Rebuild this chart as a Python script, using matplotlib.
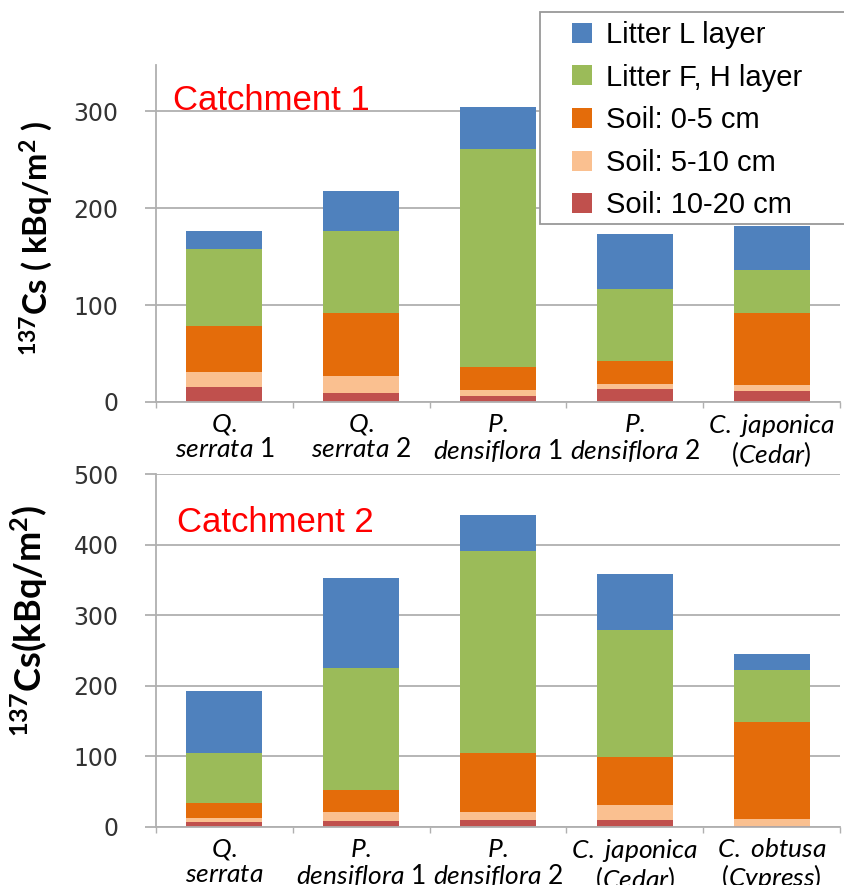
import numpy as np
import matplotlib.pyplot as plt
from matplotlib.patches import Patch, Rectangle

plt.rcParams['mathtext.fontset'] = 'custom'
plt.rcParams['mathtext.rm'] = 'Lato'
plt.rcParams['mathtext.it'] = 'Lato:italic'
plt.rcParams['mathtext.bf'] = 'Lato:bold'

# layer names, bottom to top
layers = ['Soil: 10-20 cm', 'Soil: 5-10 cm', 'Soil: 0-5 cm', 'Litter F, H layer', 'Litter L layer']
colors = ['#C0504D', '#FAC090', '#E46C0A', '#9BBB59', '#4F81BD']

# catchment 1 (kBq/m2)
c1_labels = [r'$\mathit{Q.}$' + '\n' + r'$\mathit{serrata}$ 1',
             r'$\mathit{Q.}$' + '\n' + r'$\mathit{serrata}$ 2',
             r'$\mathit{P.}$' + '\n' + r'$\mathit{densiflora}$ 1',
             r'$\mathit{P.}$' + '\n' + r'$\mathit{densiflora}$ 2',
             r'$\mathit{C.\ japonica}$' + '\n' + r'$\mathit{(Cedar)}$']
c1_soil_10_20 = [16, 9, 6.5, 13, 11]
c1_soil_5_10 = [15, 18, 5.5, 6, 7]
c1_soil_0_5 = [47, 65, 24, 23, 74]
c1_litter_fh = [80, 85, 225, 75, 44]
c1_litter_l = [19, 41, 44, 56, 46]

# catchment 2 (kBq/m2)
c2_labels = [r'$\mathit{Q.}$' + '\n' + r'$\mathit{serrata}$',
             r'$\mathit{P.}$' + '\n' + r'$\mathit{densiflora}$ 1',
             r'$\mathit{P.}$' + '\n' + r'$\mathit{densiflora}$ 2',
             r'$\mathit{C.\ japonica}$' + '\n' + r'$\mathit{(Cedar)}$',
             r'$\mathit{C.\ obtusa}$' + '\n' + r'$\mathit{(Cypress)}$']
c2_soil_10_20 = [6, 8, 9.5, 9.5, 1]
c2_soil_5_10 = [7, 13, 11, 21.5, 9.5]
c2_soil_0_5 = [20, 31, 84, 68, 138.5]
c2_litter_fh = [71, 173, 287, 180, 74]
c2_litter_l = [89, 128, 51, 79, 22]

c1_ylim = (0, 348)
c1_yticks = [0, 100, 200, 300]
c2_ylim = (0, 500)
c2_yticks = [0, 100, 200, 300, 400, 500]

c1_ylabel = r'$^{\mathbf{137}}$Cs ( kBq/m$^{\mathbf{2}}$ )'
c2_ylabel = r'$^{\mathbf{137}}$Cs(kBq/m$^{\mathbf{2}}$)'

W, H = 844, 885
fig = plt.figure(figsize=(W / 100, H / 100), dpi=100)
ax1 = fig.add_axes([156 / W, 1 - 402 / H, 684 / W, 337 / H])
ax2 = fig.add_axes([156 / W, 1 - 826.7 / H, 684 / W, 352.4 / H])

grid_col = '#b0b0b0'


def panel(ax, labels, series, ylim, yticks, ylabel, ylabel_size, title, title_xy, clip_last=None):
    x = np.arange(len(labels))
    bottom = np.zeros(len(labels))
    for vals, col, name in zip(series, colors, layers):
        ax.bar(x, vals, 0.555, bottom=bottom, color=col, label=name, zorder=2)
        bottom += np.array(vals)
    ax.set_xlim(-0.5, len(labels) - 0.5)
    ax.set_ylim(*ylim)
    ax.set_yticks(yticks)
    ax.yaxis.grid(True, color=grid_col, lw=1.3, zorder=0)
    ax.set_axisbelow(True)
    for s in ['top', 'right']:
        ax.spines[s].set_visible(False)
    for s in ['left', 'bottom']:
        ax.spines[s].set_color(grid_col)
        ax.spines[s].set_linewidth(1.3)
    ax.tick_params(axis='y', length=8, width=1.3, color=grid_col, pad=19,
                   labelsize=17, labelcolor='#333333')
    ax.set_xticks([])
    ax.set_xticks(np.arange(len(labels) + 1) - 0.5, minor=True)
    ax.tick_params(axis='x', which='minor', length=4, width=1.0, color=grid_col)
    tr = ax.get_xaxis_transform()
    for i, lbl in enumerate(labels):
        t = ax.text(x[i], -0.03, lbl, transform=tr, ha='center', va='top',
                    multialignment='center', fontsize=19, family='Lato',
                    linespacing=0.98, color='black')
        if clip_last is not None and i == clip_last:
            clip = Rectangle((i - 0.5, -0.3), 1.0, 0.3, transform=tr)
            t.set_clip_path(clip)
            t.set_clip_on(True)
    ax.text(title_xy[0], title_xy[1], title, transform=ax.transAxes, color='red',
            fontsize=25, family='Liberation Sans', va='baseline', ha='left')
    ax.set_ylabel(ylabel, fontsize=ylabel_size, fontweight='bold', family='Lato', labelpad=0)


panel(ax1, c1_labels, [c1_soil_10_20, c1_soil_5_10, c1_soil_0_5, c1_litter_fh, c1_litter_l],
      c1_ylim, c1_yticks, c1_ylabel, 23.7, 'Catchment 1', (0.025, 0.866))
panel(ax2, c2_labels, [c2_soil_10_20, c2_soil_5_10, c2_soil_0_5, c2_litter_fh, c2_litter_l],
      c2_ylim, c2_yticks, c2_ylabel, 26, 'Catchment 2', (0.031, 0.837), clip_last=3)

ax1.yaxis.set_label_coords(-0.148, 0.487)
ax2.yaxis.set_label_coords(-0.155, 0.585)

# legend with a frame running off the right edge
fig.patches.append(Rectangle((540 / W, 1 - 224 / H), 320 / W, 212 / H, transform=fig.transFigure,
                             facecolor='white', edgecolor='#999999', lw=1.3, zorder=4))
handles = [Patch(facecolor=c) for c in colors][::-1]
fig.legend(handles, layers[::-1], loc='upper left', bbox_to_anchor=(572 / W, 1 - 21 / H),
           frameon=False, borderpad=0, borderaxespad=0,
           prop={'family': 'Liberation Sans', 'size': 21},
           handlelength=0.68, handleheight=0.68, handletextpad=0.5, labelspacing=0.5)

plt.savefig('out.png', dpi=100)
